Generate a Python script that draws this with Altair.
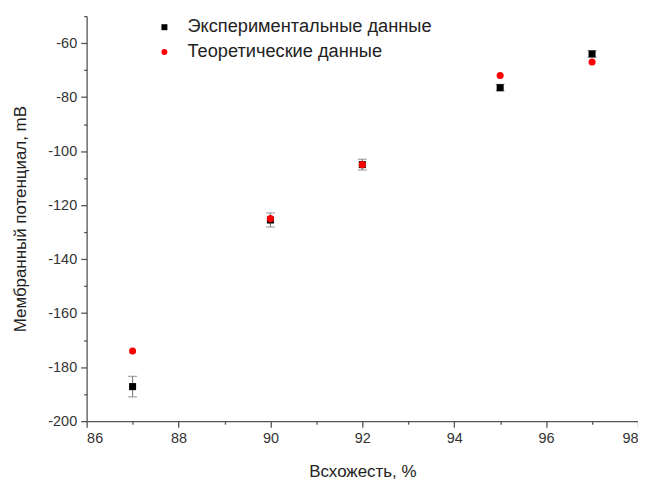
import altair as alt
import pandas as pd

x_vals = [87, 90, 92, 95, 97]
exp_vals = [-187.2, -125.5, -105.0, -76.5, -64.0]
exp_err = [3.8, 2.6, 2.0, 1.2, 1.2]
theo_vals = [-174.0, -125.0, -105.0, -72.0, -67.0]

s_exp = "Экспериментальные данные"
s_theo = "Теоретические данные"

x_major = [86, 88, 90, 92, 94, 96, 98]
x_minor = [87, 89, 91, 93, 95, 97]
y_major = [-200, -180, -160, -140, -120, -100, -80, -60]
y_minor = [-190, -170, -150, -130, -110, -90, -70, -50]

rows = []
for xv, ev, er in zip(x_vals, exp_vals, exp_err):
    rows.append({"x": xv, "y": ev, "lo": ev - er, "hi": ev + er, "s": s_exp, "k": 0})
for xv, tv in zip(x_vals, theo_vals):
    rows.append({"x": xv, "y": tv, "lo": tv, "hi": tv, "s": s_theo, "k": 1})
df = pd.DataFrame(rows)
df_exp = df[df.s == s_exp]

FONT = "Liberation Sans"
xs = alt.Scale(domain=[86, 98], nice=False, zero=False)
ys = alt.Scale(domain=[-200, -50], nice=False, zero=False)

axis_common = dict(grid=False, domainColor="#555555", domainWidth=1.3,
                   tickColor="#555555", tickWidth=1.3, tickSize=6,
                   labelFont=FONT, labelFontSize=14.5, labelColor="#333333",
                   labelExpr="'' + datum.value",
                   titleFont=FONT, titleFontSize=17, titleFontWeight="normal",
                   titleColor="#222222")

xaxis = alt.Axis(values=x_major, title="Всхожесть, %", labelPadding=4,
                 titlePadding=19, orient="bottom", **axis_common)
yaxis = alt.Axis(values=y_major, title="Мембранный потенциал, mB", labelPadding=4,
                 titlePadding=18, orient="left", **axis_common)

err = alt.Chart(df_exp).mark_errorbar(ticks=alt.MarkConfig(size=9, color="#808080", strokeWidth=1.2),
                                      color="#808080", thickness=1.2).encode(
    x=alt.X("x:Q", scale=xs, axis=xaxis),
    y=alt.Y("lo:Q", scale=ys, axis=yaxis),
    y2="hi:Q",
)

leg = dict(title=None, orient="none", legendX=69, legendY=2,
           labelFont=FONT, labelFontSize=18.3, labelColor="#222222",
           labelOffset=14, rowPadding=6, labelLimit=0, symbolSize=36)

pts = alt.Chart(df).mark_point(filled=True, opacity=1, size=50).encode(
    x=alt.X("x:Q", scale=xs, axis=None),
    y=alt.Y("y:Q", scale=ys, axis=None),
    shape=alt.Shape("s:N", scale=alt.Scale(domain=[s_exp, s_theo], range=["square", "circle"]),
                    legend=alt.Legend(**leg)),
    color=alt.Color("s:N", scale=alt.Scale(domain=[s_exp, s_theo], range=["#000000", "#ff0000"]),
                    legend=alt.Legend(**leg)),
    order=alt.Order("k:Q"),
)

minor = alt.Chart(df).mark_point(opacity=0).encode(
    x=alt.X("x:Q", scale=xs, axis=alt.Axis(values=x_minor, labels=False, domain=False, grid=False,
                                          tickSize=3, tickColor="#555555", tickWidth=1.3,
                                          title=None, orient="bottom")),
    y=alt.Y("y:Q", scale=ys, axis=alt.Axis(values=y_minor, labels=False, domain=False, grid=False,
                                          tickSize=3, tickColor="#555555", tickWidth=1.3,
                                          title=None, orient="left")),
)

chart = alt.layer(err, pts, minor).resolve_axis(x="independent", y="independent").properties(
    width=554, height=407,
    autosize=alt.AutoSizeParams(type="none"),
    padding={"left": 79, "top": 7, "right": 0, "bottom": 65},
).configure_view(stroke=None)

chart.save("out.html", embed_options={"renderer": "svg", "actions": False})
